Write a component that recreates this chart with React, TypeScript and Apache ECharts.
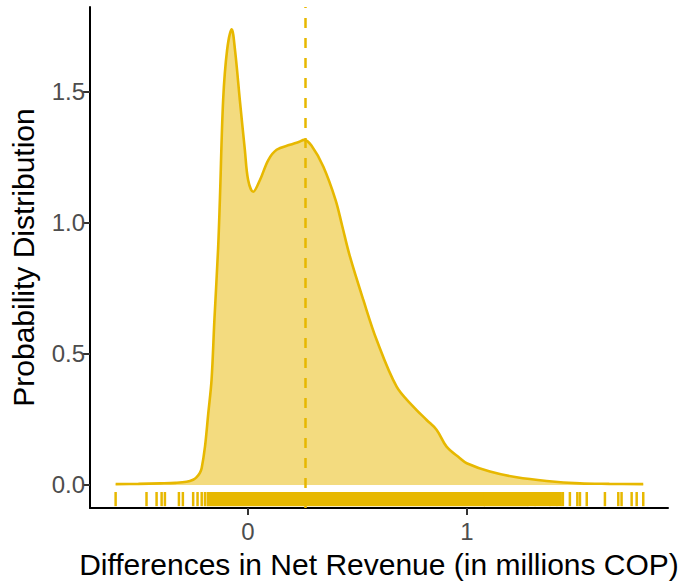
import React, { useEffect, useRef } from "react";
import * as echarts from "echarts";

// Density curve (x, density)
const densityX = [
  -0.604, -0.5, -0.4, -0.33, -0.28, -0.25, -0.234, -0.22, -0.211, -0.196, -0.181, -0.166, -0.153,
  -0.136, -0.128, -0.113, -0.095, -0.074, -0.059, -0.037, -0.014, 0.001, 0.024, 0.055, 0.093, 0.131,
  0.192, 0.235, 0.256, 0.29, 0.344, 0.4, 0.43, 0.466, 0.527, 0.588, 0.679, 0.755, 0.816, 0.862, 0.907,
  0.968, 0.999, 1.105, 1.227, 1.364, 1.516, 1.65, 1.805,
];
const densityY = [
  0.003, 0.004, 0.006, 0.008, 0.012, 0.02, 0.03, 0.045, 0.065, 0.146, 0.273, 0.401, 0.63,
  0.904, 1.088, 1.47, 1.66, 1.739, 1.66, 1.47, 1.279, 1.164, 1.119, 1.164, 1.24, 1.279,
  1.298, 1.31, 1.317, 1.295, 1.215, 1.088, 0.99, 0.871, 0.706, 0.553, 0.375, 0.299, 0.248, 0.21, 0.146,
  0.102, 0.083, 0.051, 0.029, 0.015, 0.006, 0.004, 0.003,
];

// Mean (dashed line)
const meanValue = 0.256;

// Rug: isolated observations and densely covered spans
const rugTicks = [
  -0.604, -0.463, -0.417, -0.394, -0.379, -0.315, -0.297, -0.25, -0.23, -0.211, -0.196,
  1.438, 1.47, 1.504, 1.516, 1.547, 1.63, 1.691, 1.706, 1.752, 1.775, 1.805,
];
const rugSpans = [
  [-0.183, 1.077],
  [1.083, 1.275],
  [1.282, 1.308],
  [1.314, 1.376],
  [1.382, 1.408],
  [1.414, 1.428],
];

const xTicks = [0, 1];
const yTicks = [0, 0.5, 1, 1.5];

const MAIN = "#E7B800";
const FONT = "Liberation Sans, Arial, sans-serif";

export default function App() {
  const ref = useRef<HTMLDivElement>(null);
  useEffect(() => {
    document.body.style.margin = "0";
    const chart = echarts.init(ref.current!, null, { renderer: "svg" });
    const curve = densityX.map((x, i) => [x, densityY[i]]);
    const rugData = [
      ...rugTicks.map((x) => [x, x]),
      ...rugSpans.map((s) => [s[0], s[1]]),
    ];
    chart.setOption({
      animation: false,
      textStyle: { fontFamily: FONT },
      grid: { left: 90, right: 17, top: 7, bottom: 79, containLabel: false, outerBoundsMode: "none" },
      xAxis: {
        type: "value",
        min: -0.721,
        max: 1.918,
        name: "Differences in Net Revenue (in millions COP)",
        nameLocation: "middle",
        nameGap: 41,
        nameTextStyle: { fontSize: 30, color: "#000", fontFamily: FONT },
        axisLine: { onZero: false, lineStyle: { color: "#000", width: 2 } },
        axisTick: { show: true, length: 7, customValues: xTicks, lineStyle: { color: "#333", width: 2 } },
        axisLabel: {
          customValues: xTicks,
          fontSize: 24,
          color: "#4D4D4D",
          margin: 11,
          formatter: (v: number) => String(v),
        },
        splitLine: { show: false },
      },
      yAxis: {
        type: "value",
        min: -0.088,
        max: 1.824,
        name: "Probability Distribution",
        nameLocation: "middle",
        nameGap: 52,
        nameTextStyle: { fontSize: 30, color: "#000", fontFamily: FONT },
        axisLine: { onZero: false, lineStyle: { color: "#000", width: 2 } },
        axisTick: { show: true, length: 7, customValues: yTicks, lineStyle: { color: "#333", width: 2 } },
        axisLabel: {
          customValues: yTicks,
          fontSize: 24,
          color: "#4D4D4D",
          margin: 5,
          formatter: (v: number) => v.toFixed(1),
        },
        splitLine: { show: false },
      },
      series: [
        {
          type: "line",
          data: curve,
          smooth: 0.35,
          showSymbol: false,
          symbol: "none",
          lineStyle: { color: MAIN, width: 2.6 },
          areaStyle: { color: MAIN, opacity: 0.5 },
          z: 2,
          markLine: {
            silent: true,
            symbol: "none",
            label: { show: false },
            lineStyle: { color: MAIN, type: [10, 10], width: 2.5 },
            data: [{ xAxis: meanValue }],
          },
        },
        {
          type: "custom",
          z: 5,
          encode: { x: [0, 1] },
          data: rugData,
          renderItem: (params: any, api: any) => {
            const a = api.coord([api.value(0), -0.027]);
            const b = api.coord([api.value(1), -0.081]);
            const hw = 1.25;
            return {
              type: "rect",
              shape: { x: a[0] - hw, y: a[1], width: b[0] - a[0] + 2 * hw, height: b[1] - a[1] },
              style: { fill: MAIN },
            };
          },
        },
      ],
    });
    return () => chart.dispose();
  }, []);
  return <div ref={ref} style={{ width: 685, height: 587 }} />;
}
